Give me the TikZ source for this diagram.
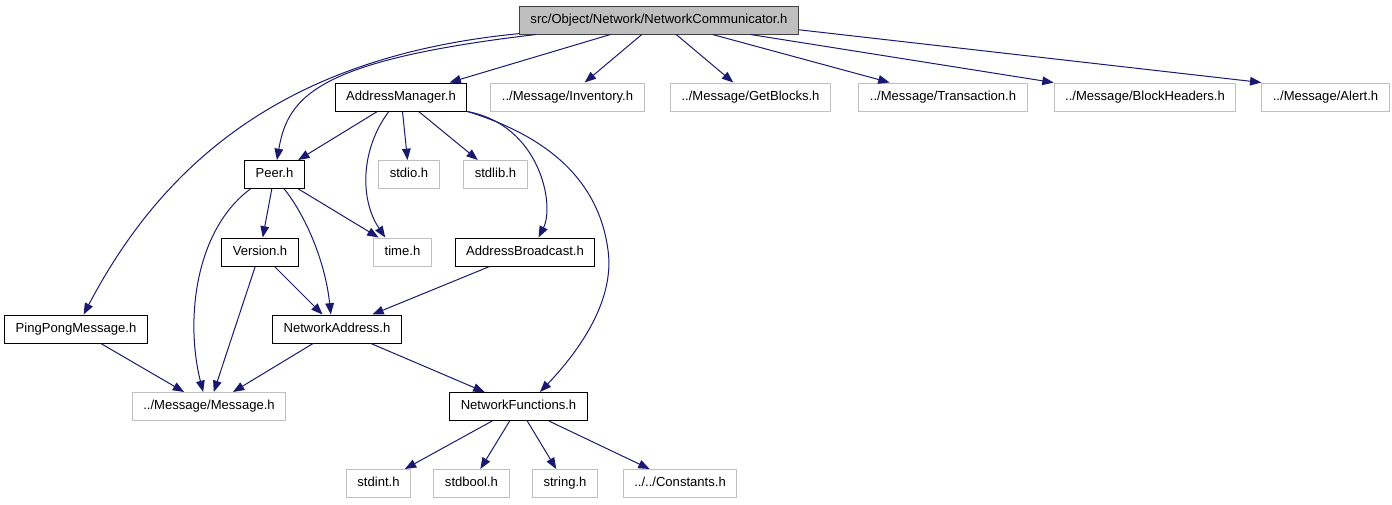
\documentclass[tikz,border=0pt]{standalone}
\usepackage{fontspec}
\setmainfont{Liberation Sans}
\usetikzlibrary{arrows.meta}

\definecolor{edgeblue}{HTML}{191970}
\definecolor{lightbox}{HTML}{BFBFBF}
\definecolor{darkbox}{HTML}{404040}

\begin{document}
\begin{tikzpicture}[x=0.75pt, y=-0.75pt, >={Triangle[length=8.5pt,width=6.5pt]}, line width=0.75pt,
    hfile/.style={draw=black, rectangle, inner xsep=8.25pt, inner ysep=0pt,
        minimum height=21pt, text height=7pt, text depth=2.2pt,
        font=\fontsize{9.8}{11}\selectfont},
    sysfile/.style={hfile, draw=lightbox},
    rootfile/.style={hfile, draw=darkbox, fill=lightbox},
    dep/.style={->, draw=edgeblue}]

    \useasboundingbox (0,0) rectangle (1392,504);

    % === row 0 ===
    \node[rootfile] (root) at (659,20) {src/Object/Network/NetworkCommunicator.h};

    % === row 1 ===
    \node[hfile]   (addrmgr)   at (401,97)    {AddressManager.h};
    \node[sysfile] (inventory) at (567.5,97)  {../Message/Inventory.h};
    \node[sysfile] (getblocks) at (750.5,97)  {../Message/GetBlocks.h};
    \node[sysfile] (transact)  at (943,97)    {../Message/Transaction.h};
    \node[sysfile] (blkhead)   at (1145,97)   {../Message/BlockHeaders.h};
    \node[sysfile] (alert)     at (1325.5,97) {../Message/Alert.h};

    % === row 2 ===
    \node[hfile]   (peer)   at (274.5,174.5) {Peer.h};
    \node[sysfile] (stdio)  at (409,174.5)   {stdio.h};
    \node[sysfile] (stdlib) at (495.5,174.5) {stdlib.h};

    % === row 3 ===
    \node[hfile]   (version)   at (260,252)   {Version.h};
    \node[sysfile] (timeh)     at (402.5,252) {time.h};
    \node[hfile]   (addrbcast) at (525,252)   {AddressBroadcast.h};

    % === row 4 ===
    \node[hfile] (pingpong) at (76,329)  {PingPongMessage.h};
    \node[hfile] (netaddr)  at (337,329) {NetworkAddress.h};

    % === row 5 ===
    \node[sysfile] (message) at (209,406.5)   {../Message/Message.h};
    \node[hfile]   (netfunc) at (518.5,406.5) {NetworkFunctions.h};

    % === row 6 ===
    \node[sysfile] (stdint)    at (378.5,483.5) {stdint.h};
    \node[sysfile] (stdbool)   at (471.5,483.5) {stdbool.h};
    \node[sysfile] (stringh)   at (565,483.5)   {string.h};
    \node[sysfile] (constants) at (680,483.5)   {../../Constants.h};

    % === edges from the root ===
    \draw[dep] (root) .. controls (300,55) and (170,150) .. (pingpong);
    \draw[dep] (root) .. controls (320,60) and (288,95) .. (peer);
    \draw[dep] (root) -- (addrmgr);
    \draw[dep] (root) -- (inventory);
    \draw[dep] (root) -- (getblocks);
    \draw[dep] (root) -- (transact);
    \draw[dep] (root) -- (blkhead);
    \draw[dep] (root.-4.7) -- (alert.north west);

    % === AddressManager.h ===
    \draw[dep] (addrmgr) -- (peer);
    \draw[dep] (addrmgr.230) .. controls (360,150) and (360,200) .. (timeh.140);
    \draw[dep] (addrmgr) -- (stdio);
    \draw[dep] (addrmgr) -- (stdlib);
    \draw[dep] (addrmgr.south east) .. controls (540,125) and (555,205) .. (addrbcast.47);
    \draw[dep] (addrmgr.south east) .. controls (560,140) and (600,190) .. (608,250)
        .. controls (615,300) and (580,350) .. (netfunc.34);

    % === Peer.h ===
    \draw[dep] (peer) -- (version);
    \draw[dep] (peer) -- (timeh);
    \draw[dep] (peer.-56) .. controls (305,215) and (325,260) .. (netaddr.113);
    \draw[dep] (peer.211) .. controls (195,230) and (185,320) .. (message.112);

    % === middle rows ===
    \draw[dep] (version) -- (netaddr);
    \draw[dep] (version) -- (message);
    \draw[dep] (addrbcast) -- (netaddr);
    \draw[dep] (pingpong) -- (message);
    \draw[dep] (netaddr) -- (message);
    \draw[dep] (netaddr) -- (netfunc);

    % === NetworkFunctions.h ===
    \draw[dep] (netfunc) -- (stdint);
    \draw[dep] (netfunc) -- (stdbool);
    \draw[dep] (netfunc) -- (stringh);
    \draw[dep] (netfunc) -- (constants);

\end{tikzpicture}
\end{document}
